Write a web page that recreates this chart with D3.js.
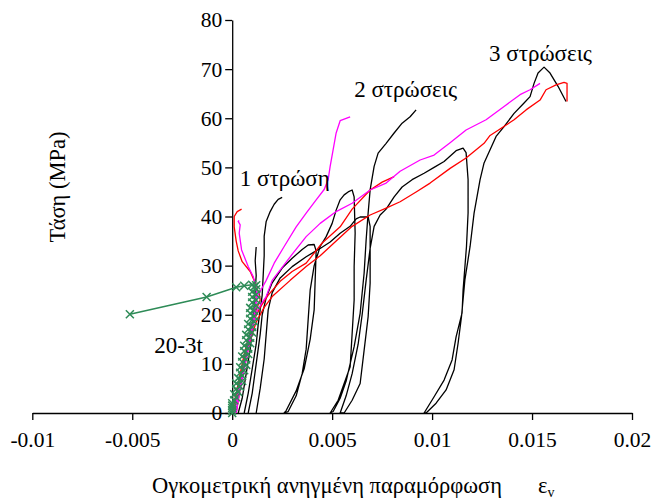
<!DOCTYPE html>
<html><head><meta charset="utf-8">
<script src="https://cdn.jsdelivr.net/npm/d3@7"></script>
<style>
html,body{margin:0;padding:0;background:#fff;}
svg{display:block;}
</style></head>
<body><svg id="c" width="651" height="499"></svg>
<script>
// ---- data ----
const xTicks = [-0.01, -0.005, 0, 0.005, 0.01, 0.015, 0.02];
const xTickLabels = ["-0.01", "-0.005", "0", "0.005", "0.01", "0.015", "0.02"];
const yTicks = [0, 10, 20, 30, 40, 50, 60, 70, 80];
const yTickLabels = ["0", "10", "20", "30", "40", "50", "60", "70", "80"];

// black: 1 layer specimens
const black1a = [[0.0003,0],[0.0005,3],[0.0007,8],[0.0009,13],[0.001,17],[0.0011,21],[0.00115,25],[0.0012,28],[0.00115,31],[0.0012,33.8]];
const black1b = [[0.0006,0],[0.0008,4],[0.001,9],[0.0012,14],[0.0013,18],[0.0014,21],[0.0015,24],[0.00155,28],[0.0016,32],[0.0016,36],[0.0017,39],[0.0019,41],[0.0021,42.5],[0.0023,43.5],[0.0025,43.9]];
// black: 2 layers specimen (cycles)
const black2 = [[0.0008,0],[0.001,4],[0.0012,10],[0.0014,16],[0.0015,20],[0.0017,23.5],[0.002,26.5],[0.0025,29.5],[0.003,31.5],[0.0035,33.3],[0.0038,34.2],[0.0041,34.3],[0.0042,33],[0.00415,27],[0.0041,21],[0.0039,15],[0.0036,9],[0.0032,4.5],[0.0027,0.5],[0.0026,0],
 [0.0028,0.3],[0.0032,3.5],[0.0035,8],[0.0037,13],[0.0038,19],[0.0039,25],[0.0041,30],[0.0044,33.9],[0.0047,35.9],[0.005,38.6],[0.0052,41.3],[0.0054,43.4],[0.0056,44.4],[0.0058,45],[0.006,45.4],[0.0061,44],[0.00615,36.6],[0.0061,29.8],[0.0061,23],[0.006,16.2],[0.0059,9.4],[0.0056,6],[0.0053,2.6],[0.0049,0],
 [0.00505,0.3],[0.0054,3],[0.0057,6.5],[0.0061,13.5],[0.0064,20.3],[0.0066,28.5],[0.0067,35.2],[0.0068,40.7],[0.0069,45.4],[0.0071,50.2],[0.0073,52.9],[0.0077,54.9],[0.0081,57],[0.0085,59],[0.0089,60.3],[0.0092,61.7]];
// black: 3 layers specimen (cycles)
const black3 = [[0.0012,0],[0.0014,5],[0.0016,11],[0.0017,16],[0.0018,21],[0.002,24.5],[0.0024,27.5],[0.003,29.8],[0.0037,31.8],[0.0044,33.5],[0.0049,34.8],[0.0054,36.6],[0.0059,38],[0.0062,39.5],[0.0064,39.9],[0.0068,39.9],[0.0069,38],[0.0069,33.2],[0.0069,26.4],[0.0068,19.6],[0.0066,12.8],[0.0064,6],[0.006,2.6],[0.0056,0],
 [0.0054,0],[0.0057,3.5],[0.006,8],[0.0063,14],[0.0065,20],[0.0067,27],[0.0069,33.5],[0.0071,38],[0.0074,40.3],[0.0077,41.5],[0.0081,44],[0.0085,46],[0.009,47.5],[0.0096,48.8],[0.0101,50],[0.0106,51.2],[0.0112,53.4],[0.01155,53.9],[0.0117,53],[0.0118,47.5],[0.0118,40.7],[0.01172,33.9],[0.01155,25],[0.0115,20.4],[0.0112,15.5],[0.011,10.8],[0.0106,6.7],[0.0101,3.3],[0.0096,0],
 [0.0097,0],[0.0102,2],[0.0107,4.7],[0.0111,8.8],[0.0113,14.2],[0.01147,19.6],[0.01164,27.1],[0.0119,33.9],[0.0121,40.7],[0.0124,47.5],[0.0126,50.9],[0.0129,53.6],[0.0132,56.3],[0.0136,58.3],[0.0141,61],[0.0146,63.1],[0.0149,64.4],[0.0151,67.1],[0.0153,69.2],[0.0156,70.4],[0.0159,69.2],[0.0163,66.5],[0.0167,63.4]];

// red specimens
const redLong = [[0.0002,0],[0.0004,5],[0.0006,9],[0.0008,13],[0.001,16],[0.0012,18.5],[0.0014,20],[0.0016,21.5],[0.002,23.7],[0.0029,27],[0.0037,29.8],[0.0044,32],[0.0052,35],[0.006,38],[0.0069,40.3],[0.0077,41.7],[0.0084,43],[0.0092,45],[0.0099,46.8],[0.0109,49.8],[0.0117,51.9],[0.0126,54.9],[0.0129,56.5],[0.0134,57.8],[0.0141,59.7],[0.0147,61.7],[0.0154,63.7],[0.0157,65.8],[0.0162,66.8],[0.0166,67.3],[0.01675,67.1],[0.01675,63.4]];
const redShort = [[0.0001,0],[0.0003,5],[0.0005,9],[0.0007,13],[0.0009,16],[0.0011,19],[0.0014,21.5],[0.0018,24],[0.0024,26.8],[0.003,28.8],[0.0037,30.5],[0.0045,34.6],[0.0054,37.9],[0.006,41.5],[0.0069,45.4],[0.0075,47],[0.0081,48.1]];
const redBack = [[0,0],[0.0002,4],[0.0004,8],[0.0006,12],[0.0008,15],[0.001,18],[0.0012,21],[0.0014,23],[0.00135,24.5],[0.0012,25.5],[0.0011,27],[0.0009,28.8],[0.0005,30.8],[0.0003,33],[0.0002,35],[0.0001,37.9],[0.0001,40],[0.00025,41],[0.00047,41.5]];

// magenta specimens
const magShort = [[0.0002,0],[0.0003,3],[0.0005,8],[0.0007,12],[0.0009,16],[0.0011,20],[0.00125,23.7],[0.0015,25.5],[0.0017,27],[0.0021,30.5],[0.0026,33.9],[0.0032,37.9],[0.0037,40.7],[0.0042,43.4],[0.0046,45.5],[0.0048,47.5],[0.0049,50.2],[0.00505,53.6],[0.0052,57],[0.0054,59.5],[0.0059,60.3]];
const magBack = [[0.0001,0],[0.0003,4],[0.0005,8],[0.0007,12],[0.0009,16],[0.0011,20],[0.0012,23],[0.00122,25],[0.00105,27.8],[0.0008,29.8],[0.00047,33.2],[0.00035,36.6],[0.0004,38.3],[0.0003,39],[0.00035,39.2]];
const magLong = [[0.0002,0],[0.0004,5],[0.0006,9],[0.0008,13],[0.001,17],[0.0012,20.5],[0.0015,22.5],[0.0017,23.7],[0.002,27],[0.0029,31.8],[0.0037,35.9],[0.0044,38.6],[0.0052,41],[0.006,42.7],[0.0069,45.4],[0.0077,46.8],[0.0084,49.2],[0.0094,51.5],[0.0101,52.5],[0.0109,55],[0.0117,57.6],[0.0127,59.7],[0.0136,62.4],[0.0144,64.8],[0.0149,65.8],[0.0154,67.1]];

// green series "20-3t" (with markers)
const green203t = [[0,0],[0,0.5],[0,1],[0,1.5],[0,2],[0.0001,2.6],[0.0002,3.2],[0.0001,3.8],[0.0003,4.3],[0.0002,4.9],[0.0004,5.4],[0.0002,6],[0.0005,6.5],[0.0003,7.1],[0.0005,7.6],[0.0004,8.2],[0.0006,8.7],[0.0004,9.3],[0.0007,9.8],[0.0005,10.4],[0.0007,10.9],[0.0005,11.5],[0.0008,12],[0.0006,12.6],[0.0008,13.1],[0.0006,13.7],[0.0009,14.2],[0.0007,14.8],[0.0009,15.3],[0.0007,15.9],[0.001,16.4],[0.0008,17],[0.001,17.5],[0.0008,18.1],[0.0011,18.6],[0.0009,19.2],[0.0011,19.7],[0.0009,20.3],[0.0011,20.8],[0.0009,21.4],[0.0012,21.9],[0.001,22.5],[0.0012,23],[0.001,23.6],[0.0012,24.1],[0.001,24.7],[0.0012,25.2],[0.0011,25.7],[0.0012,26],[0.001,26.1],[0.0006,25.9],[0.0002,25.6],[-0.00128,23.6],[-0.00512,20.1]];

const annotations = [
  {t:"1 στρώση", x:0.00038, y:46.3},
  {t:"2 στρώσεις", x:0.0061, y:64.3},
  {t:"3 στρώσεις", x:0.01285, y:71.7},
  {t:"20-3t", x:-0.0039, y:12.2}
];

// ---- drawing ----
const svg = d3.select("#c");
const x = d3.scaleLinear().domain([-0.01, 0.02]).range([32.3, 632]);
const y = d3.scaleLinear().domain([0, 80]).range([413, 20]);
const ff = "'Liberation Serif'";
const tickFs = "21.5px", annFs = "23px", titleFs = "22.5px";

// axes
const xAxis = d3.axisBottom(x).tickValues(xTicks).tickSize(7).tickSizeOuter(0)
  .tickPadding(12).tickFormat((d,i)=>xTickLabels[i]);
const gx = svg.append("g").attr("transform", `translate(0,${y(0)})`).call(xAxis);
const yAxis = d3.axisLeft(y).tickValues(yTicks).tickSize(7).tickSizeOuter(0)
  .tickPadding(3).tickFormat((d,i)=>yTickLabels[i]);
const gy = svg.append("g").attr("transform", `translate(${x(0)},0)`).call(yAxis);
[gx, gy].forEach(g => {
  g.selectAll("path,line").attr("stroke", "#000").attr("stroke-width", 1.3);
  g.selectAll("text").attr("fill", "#000").style("font-family", ff).style("font-size", tickFs);
});

const line = d3.line().x(d => x(d[0])).y(d => y(d[1]));
const series = [
  {d: black1a, c: "#000"}, {d: black1b, c: "#000"}, {d: black2, c: "#000"}, {d: black3, c: "#000"},
  {d: redLong, c: "#ff0000"}, {d: redShort, c: "#ff0000"}, {d: redBack, c: "#ff0000"},
  {d: magShort, c: "#ff00ff"}, {d: magBack, c: "#ff00ff"}, {d: magLong, c: "#ff00ff"}
];
svg.append("g").selectAll("path").data(series).join("path")
  .attr("d", s => line(s.d)).attr("fill", "none").attr("stroke", s => s.c)
  .attr("stroke-width", 1.3).attr("stroke-linejoin", "round");

const green = "#2e8b57";
svg.append("path").attr("d", line(green203t)).attr("fill", "none")
  .attr("stroke", green).attr("stroke-width", 1.5);
const m = 4;
svg.append("g").selectAll("path").data(green203t).join("path")
  .attr("d", d => { const cx = x(d[0]), cy = y(d[1]);
    return `M${cx-m},${cy-m}L${cx+m},${cy+m}M${cx-m},${cy+m}L${cx+m},${cy-m}`; })
  .attr("stroke", green).attr("stroke-width", 1.5).attr("fill", "none");

// annotations
svg.append("g").selectAll("text").data(annotations).join("text")
  .attr("x", d => x(d.x)).attr("y", d => y(d.y))
  .style("font-family", ff).style("font-size", annFs).text(d => d.t);

// axis titles
svg.append("text").attr("transform", "translate(57,187) rotate(-90)")
  .attr("text-anchor", "middle").attr("dy", "0.35em")
  .style("font-family", ff).style("font-size", titleFs).text("Τάση (MPa)");
const xt = svg.append("text").attr("x", 152).attr("y", 493)
  .style("font-family", ff).style("font-size", titleFs);
xt.append("tspan").text("Ογκομετρική ανηγμένη παραμόρφωση");
xt.append("tspan").attr("x", 538).text("ε");
xt.append("tspan").style("font-size", "14px").attr("dy", 4).text("v");
</script></body></html>
